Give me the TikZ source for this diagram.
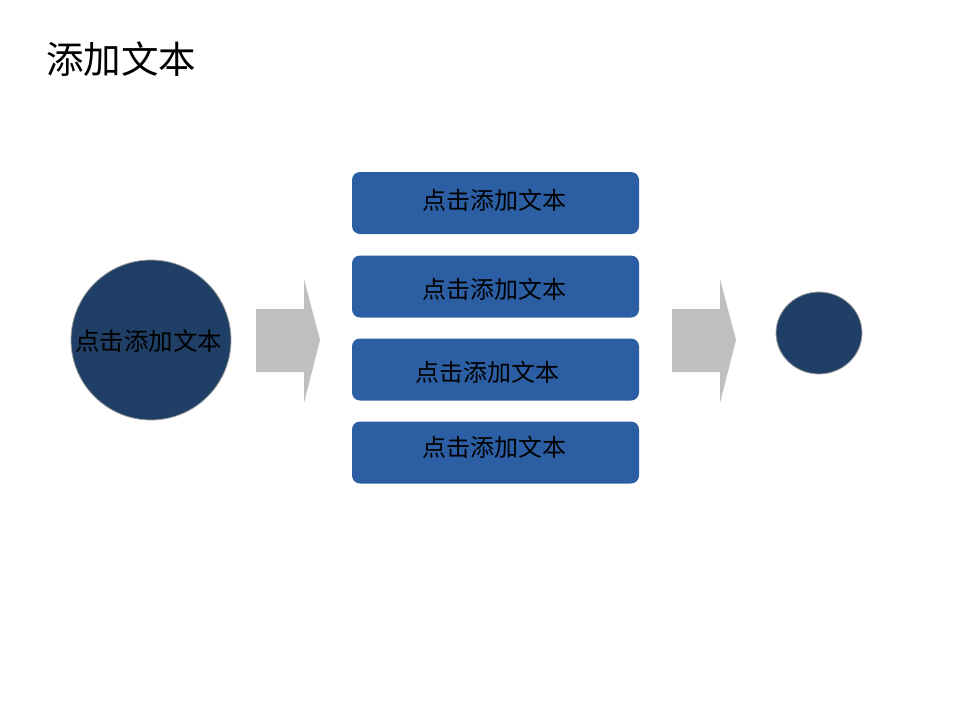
\documentclass[tikz,border=0pt]{standalone}
\usepackage{fontspec}
\setmainfont{Noto Sans CJK SC}
\usetikzlibrary{shapes.geometric}
\definecolor{boxblue}{RGB}{44,94,164}
\definecolor{darkblue}{RGB}{31,63,102}
\definecolor{arrowgrey}{RGB}{191,191,191}
\definecolor{rimgrey}{RGB}{160,160,160}
\tikzset{
  listbox/.style={fill=boxblue, draw=none, rounded corners=8pt, minimum width=287pt, minimum height=62pt, inner sep=0pt},
  txt/.style={font=\fontsize{24}{28}\selectfont, text=black, inner sep=0pt},
  bigarrow/.style={fill=arrowgrey, draw=none},
}
\begin{document}
\begin{tikzpicture}[x=1pt,y=-1pt]
\useasboundingbox (0,0) rectangle (960,720);
% title
\node[anchor=west, inner sep=0pt, font=\fontsize{37.5}{42}\selectfont] (title) at (46,59) {添加文本};
% big circle
\node[circle, fill=darkblue, draw=rimgrey, line width=0.8pt, minimum size=160pt, inner sep=0pt] (big) at (151,340) {};
\node[txt, font=\fontsize{24.5}{28}\selectfont] (bigtxt) at (148.5,341) {点击添加文本};
% arrow 1
\path[bigarrow] (256,309) -- (304,309) -- (304,279) -- (320,340) -- (304,403) -- (304,372) -- (256,372) -- cycle;
% boxes
\node[listbox] (b1) at (495.5,203) {};
\node[listbox] (b2) at (495.5,286.5) {};
\node[listbox] (b3) at (495.5,369.5) {};
\node[listbox] (b4) at (495.5,452.5) {};
\node[txt] (t1) at (494,200) {点击添加文本};
\node[txt] (t2) at (494,289) {点击添加文本};
\node[txt] (t3) at (487,372) {点击添加文本};
\node[txt] (t4) at (494,447) {点击添加文本};
% arrow 2
\path[bigarrow] (672,309) -- (720,309) -- (720,279) -- (736,340) -- (720,403) -- (720,372) -- (672,372) -- cycle;
% small circle
\node[ellipse, fill=darkblue, draw=rimgrey, line width=0.8pt, minimum width=86pt, minimum height=82pt, inner sep=0pt] (small) at (819,333) {};
\end{tikzpicture}
\end{document}
